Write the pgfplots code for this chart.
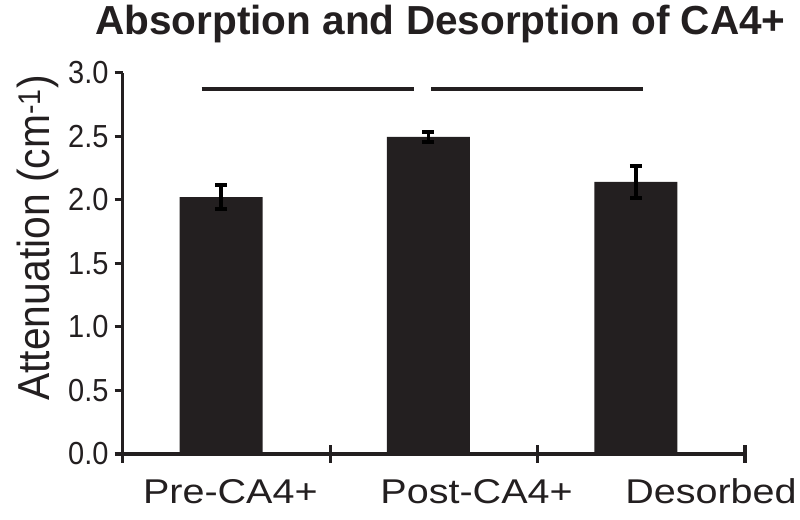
\documentclass[border=0pt]{standalone}
\usepackage{fontspec}
\setmainfont{Liberation Sans}
\newfontfamily\catfont[FakeStretch=1.15]{Liberation Sans}
\newfontfamily\ylabfont[FakeStretch=0.91]{Liberation Sans}
\usepackage{pgfplots}
\pgfplotsset{compat=1.18}
\definecolor{barblack}{HTML}{231F20}
\begin{document}
\begin{tikzpicture}[x=1bp,y=1bp]
\useasboundingbox (0,0) rectangle (800,520);
\begin{axis}[
  at={(122.7bp,66bp)}, anchor=south west,
  scale only axis, width=622.3bp, height=381.3bp,
  xmin=-0.474, xmax=2.526, ymin=0, ymax=3,
  clip=false,
  axis x line*=bottom, axis y line*=left,
  axis line style={-, line width=3.3bp, draw=barblack},
  every major tick/.append style={line width=3.2bp, draw=barblack},
  major tick style={line width=3.2bp, draw=barblack},
  xtick=\empty,
  extra x ticks={-0.474,0.526,1.526,2.526},
  extra x tick labels={},
  extra x tick style={major tick length=18bp, tick align=center, major tick style={line width=3.2bp, draw=barblack}},
  ytick={0,0.5,1,1.5,2,2.5,3},
  yticklabels={0.0,0.5,1.0,1.5,2.0,2.5,3.0},
  major tick length=8bp,
  ytick align=outside,
  yticklabel style={font=\ylabfont\fontsize{32}{32}\selectfont, text=barblack, inner sep=0pt, xshift=-6bp},
  ylabel={\ylabfont Attenuation (cm\textsuperscript{-1})},
  ylabel style={at={(axis description cs:-0.136,0.5665)}, anchor=center, font=\fontsize{45}{45}\selectfont, text=barblack},
]
\addplot[ybar, bar width=0.40, fill=barblack, draw=none,
  error bars/.cd, y dir=both, y explicit,
  error bar style={line width=3.5bp, draw=black},
  error mark options={rotate=90, mark size=6bp, line width=4bp, draw=black}]
  coordinates {(0,2.02) +- (0,0.095) (1,2.495) +- (0,0.042) (2,2.14) +- (0,0.123)};
\addplot[line width=3.3bp, barblack] coordinates {(-0.093,2.872) (0.931,2.872)};
\addplot[line width=3.3bp, barblack] coordinates {(1.013,2.872) (2.035,2.872)};
\node[anchor=base, inner sep=0pt, text=barblack, font=\catfont\fontsize{34.5}{34.5}\selectfont] at (axis cs:0.045,-0.393) {Pre-CA4+};
\node[anchor=base, inner sep=0pt, text=barblack, font=\catfont\fontsize{34.5}{34.5}\selectfont] at (axis cs:1.232,-0.393) {Post-CA4+};
\node[anchor=base, inner sep=0pt, text=barblack, font=\catfont\fontsize{34.5}{34.5}\selectfont] at (axis cs:2.362,-0.393) {Desorbed};
\end{axis}
\node[anchor=base west, inner sep=0pt, text=barblack, font=\bfseries\fontsize{40.7}{40.7}\selectfont] at (95,485.7) {Absorption and Desorption of CA4+};
\end{tikzpicture}
\end{document}
